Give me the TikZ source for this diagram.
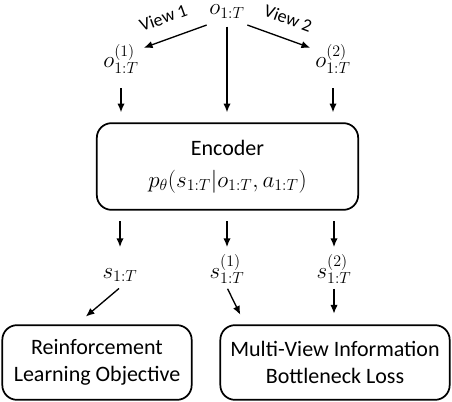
\documentclass[tikz,border=0pt]{standalone}
\usepackage{fontspec}
\setmainfont{Carlito}
\usetikzlibrary{arrows.meta,positioning}

\tikzset{
  box/.style={draw, line width=1.3pt, rounded corners=11pt, align=center, font=\fontsize{16.5}{20}\selectfont},
  var/.style={anchor=base, inner sep=1pt, text height=13pt, text depth=6pt, font=\fontsize{16.5}{20}\selectfont},
  flow/.style={-{Latex[length=6.5pt,width=5.5pt]}, line width=1pt},
  viewlbl/.style={font=\fontsize{13.5}{16}\selectfont, inner sep=1pt},
}

\begin{document}
\begin{tikzpicture}[x=0.75pt, y=-0.75pt]
    \useasboundingbox (0,0) rectangle (452,402);
    % Observations and views
    \node[var, text height=8pt] (o) at (227,15) {$o_{1:T}$};
    \node[var] (o1) at (121,68) {$o^{(1)}_{1:T}$};
    \node[var] (o2) at (333,68) {$o^{(2)}_{1:T}$};
    \draw[flow, shorten <=1pt, shorten >=3pt] (o.south west) -- (o1.north east)
        node[viewlbl, pos=0.55, above=10pt, sloped] {View 1};
    \draw[flow, shorten <=1pt, shorten >=3pt] (o.south east) -- (o2.north west)
        node[viewlbl, pos=0.52, above=9pt, sloped] {View 2};

    % Encoder
    \node[box, minimum width=196pt, minimum height=65pt] (enc) at (227.5,166.5)
        {Encoder\\[4pt] $p_\theta(s_{1:T}|o_{1:T},a_{1:T})$};
    \draw[flow, shorten <=1.5pt, shorten >=7.5pt] (o) -- (o |- enc.north);
    \foreach \n in {o1,o2} {
        \draw[flow, shorten <=8pt, shorten >=7.5pt] (\n) -- (\n |- enc.north);
    }

    % Latent states
    \node[var] (s) at (120,278) {$s_{1:T}$};
    \node[var] (s1) at (227,278) {$s^{(1)}_{1:T}$};
    \node[var] (s2) at (334,278) {$s^{(2)}_{1:T}$};
    \foreach \n in {s,s1,s2} {
        \draw[flow, shorten <=8pt, shorten >=9pt] (enc.south -| \n) -- (\n);
    }

    % Objectives
    \node[box, minimum width=142pt, minimum height=56pt] (rl) at (97,362.5)
        {Reinforcement\\Learning Objective};
    \node[box, minimum width=172pt, minimum height=56pt] (mv) at (335,362.5)
        {Multi-View Information\\Bottleneck Loss};
    \draw[flow, shorten <=1pt, shorten >=9pt] (s.south) -- (rl.118);
    \draw[flow, shorten <=1pt, shorten >=8pt] (s1.south) -- (mv.157);
    \draw[flow, shorten <=1pt, shorten >=8pt] (s2) -- (s2 |- mv.north);
\end{tikzpicture}
\end{document}
